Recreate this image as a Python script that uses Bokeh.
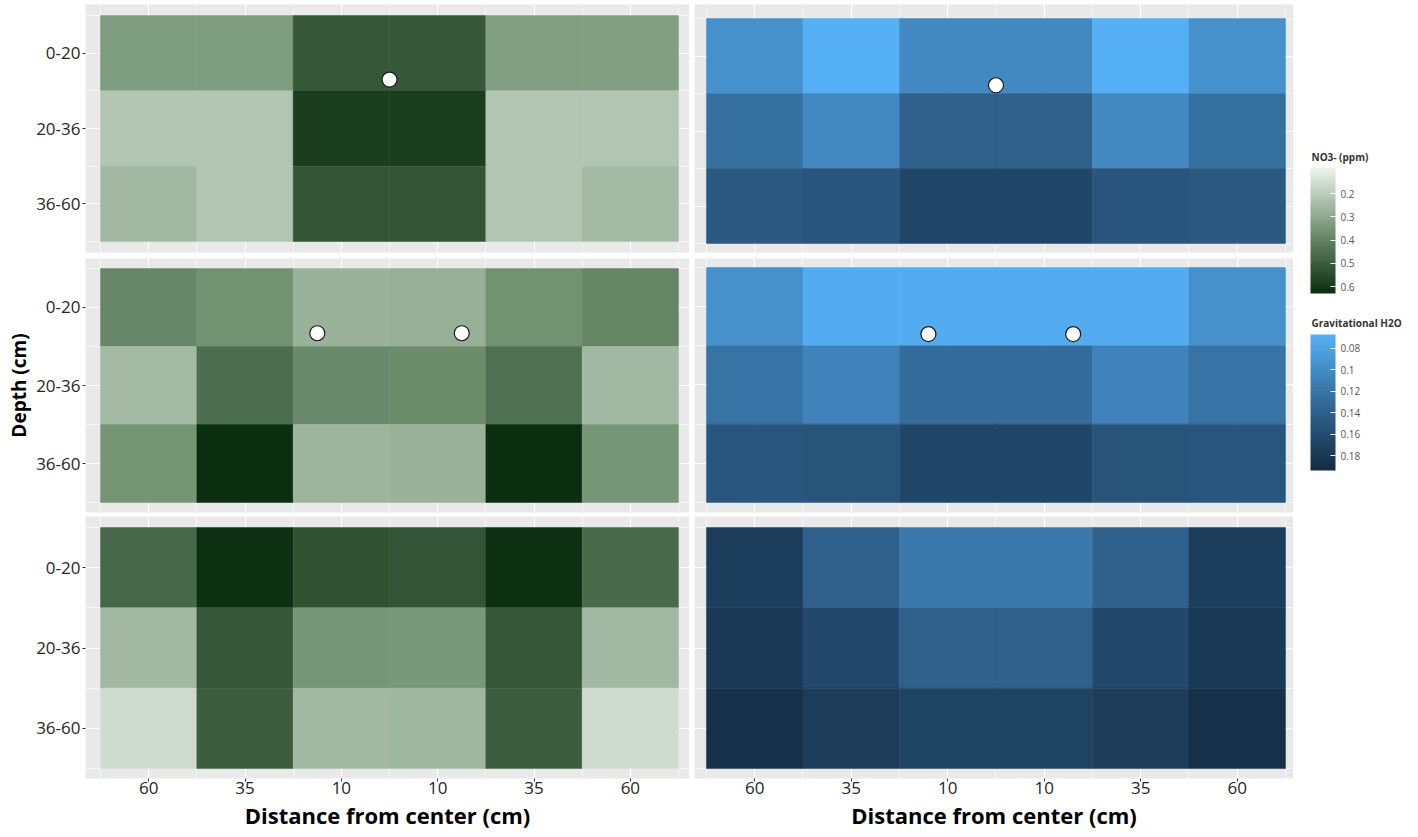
import numpy as np
from bokeh.plotting import figure
from bokeh.models import (ColumnDataSource, LinearColorMapper, ColorBar, FixedTicker,
                          Range1d, PrintfTickFormatter)
from bokeh.layouts import row, column
from bokeh.transform import transform
from bokeh.core.properties import value
from bokeh.embed import file_html
from bokeh.resources import INLINE

# ---------------- data ----------------
distance_labels = ["60", "35", "10", "10", "35", "60"]
depth_labels = ["0-20", "20-36", "36-60"]

# NO3- (ppm); rows: depth 0-20, 20-36, 36-60 ; columns: distance
no3_panel1 = [
    [0.333, 0.333, 0.516, 0.516, 0.325, 0.325],
    [0.221, 0.221, 0.587, 0.587, 0.221, 0.221],
    [0.254, 0.221, 0.524, 0.524, 0.221, 0.249],
]
no3_panel2 = [
    [0.388, 0.361, 0.271, 0.279, 0.361, 0.393],
    [0.249, 0.456, 0.380, 0.374, 0.450, 0.254],
    [0.352, 0.630, 0.265, 0.271, 0.630, 0.347],
]
no3_panel3 = [
    [0.475, 0.625, 0.532, 0.526, 0.625, 0.469],
    [0.254, 0.516, 0.347, 0.341, 0.516, 0.254],
    [0.159, 0.505, 0.254, 0.260, 0.499, 0.159],
]
# Gravitational H2O
h2o_panel1 = [
    [0.096, 0.068, 0.103, 0.103, 0.068, 0.096],
    [0.125, 0.103, 0.139, 0.139, 0.103, 0.125],
    [0.147, 0.151, 0.166, 0.166, 0.151, 0.147],
]
h2o_panel2 = [
    [0.096, 0.072, 0.072, 0.072, 0.072, 0.096],
    [0.123, 0.108, 0.129, 0.129, 0.108, 0.123],
    [0.150, 0.153, 0.166, 0.166, 0.153, 0.150],
]
h2o_panel3 = [
    [0.176, 0.139, 0.117, 0.117, 0.139, 0.176],
    [0.180, 0.164, 0.139, 0.139, 0.164, 0.180],
    [0.189, 0.177, 0.170, 0.170, 0.177, 0.189],
]

# marker positions (tile units: x column index, y depth index from bottom)
markers_left1_x = [2.5]
markers_left1_y = [1.65]
markers_right1_x = [2.5]
markers_right1_y = [1.61]
markers_left2_x = [1.75, 3.25]
markers_left2_y = [1.67, 1.67]
markers_right2_x = [1.8, 3.3]
markers_right2_y = [1.65, 1.65]

no3_ticks = [0.2, 0.3, 0.4, 0.5, 0.6]
h2o_ticks = [0.08, 0.10, 0.12, 0.14, 0.16, 0.18]
no3_limits = (0.088, 0.63)
h2o_limits = (0.067, 0.194)
legend_titles = ["NO3- (ppm)", "Gravitational H2O"]

# ---------------- styling ----------------
FONT = "Open Sans"
PANEL_BG = "#E9E9E9"


def ramp(stops, n=256):
    stops = [np.array(s, dtype=float) for s in stops]
    seg = len(stops) - 1
    out = []
    for t in np.linspace(0, 1, n):
        k = min(int(t * seg), seg - 1)
        u = t * seg - k
        c = stops[k] + (stops[k + 1] - stops[k]) * u
        out.append("#%02x%02x%02x" % tuple(int(round(v)) for v in c))
    return out


green_pal = ramp([(11, 46, 16), (114, 146, 114), (238, 245, 238)])   # dark -> light
blue_pal = ramp([(19, 43, 67), (51, 106, 152), (86, 177, 247)])      # dark -> light

# reversed mappers: high values dark (at the bottom of the colour bar)
green_mapper = LinearColorMapper(palette=green_pal, low=no3_limits[1], high=no3_limits[0])
blue_mapper = LinearColorMapper(palette=blue_pal, low=h2o_limits[1], high=h2o_limits[0])


def grid_source(grid):
    xs, ys, vs = [], [], []
    for i, rowvals in enumerate(grid):
        for j, v in enumerate(rowvals):
            xs.append(j)
            ys.append(len(grid) - 1 - i)
            vs.append(v)
    return ColumnDataSource(dict(x=xs, y=ys, v=vs))


def panel(grid, mapper, xr, yr, fw, fh, mbl, mbt, mbb, show_y, show_x,
          mx=None, my=None, ylabel=None):
    p = figure(frame_width=fw, frame_height=fh,
               x_range=Range1d(*xr), y_range=Range1d(*yr),
               output_backend="svg", toolbar_location=None,
               min_border_left=mbl, min_border_right=0, min_border_top=mbt,
               min_border_bottom=mbb,
               background_fill_color=PANEL_BG, border_fill_color="white",
               outline_line_color=None)
    p.xgrid.ticker = FixedTicker(ticks=list(range(len(distance_labels))),
                                 minor_ticks=[k - 0.5 for k in range(len(distance_labels) + 1)])
    p.ygrid.ticker = FixedTicker(ticks=list(range(len(depth_labels))),
                                 minor_ticks=[k - 0.5 for k in range(len(depth_labels) + 1)])
    for g in (p.xgrid, p.ygrid):
        g.grid_line_color = "white"
        g.grid_line_width = 1.2
        g.minor_grid_line_color = "white"
        g.minor_grid_line_width = 0.6

    src = grid_source(grid)
    tr = transform("v", mapper)
    p.rect(x="x", y="y", width=1, height=1, source=src,
           fill_color=tr, line_color=tr, line_width=0.5)

    if mx is not None:
        p.scatter(mx, my, size=15, fill_color="white", line_color="#1a1a1a", line_width=1.2)

    p.xaxis.ticker = FixedTicker(ticks=list(range(len(distance_labels))))
    p.xaxis.major_label_overrides = {j: lab for j, lab in enumerate(distance_labels)}
    p.yaxis.ticker = FixedTicker(ticks=list(range(len(depth_labels))))
    p.yaxis.major_label_overrides = {len(depth_labels) - 1 - i: lab for i, lab in enumerate(depth_labels)}
    for ax in (p.xaxis[0], p.yaxis[0]):
        ax.axis_line_color = None
        ax.minor_tick_line_color = None
        ax.major_tick_line_color = "#333333"
        ax.major_tick_out = 3
        ax.major_tick_in = 0
        ax.major_label_text_font = FONT
        ax.major_label_text_font_size = "17px"
        ax.major_label_text_color = "#262626"
        ax.axis_label_text_font = FONT
        ax.axis_label_text_font_style = "bold"
        ax.axis_label_text_color = "black"
    p.yaxis.major_label_standoff = 2
    p.xaxis.major_label_standoff = 0
    p.xaxis.visible = show_x
    p.yaxis.visible = show_y
    if show_x:
        p.xaxis.axis_label = "Distance from center (cm)"
        p.xaxis.axis_label_text_font_size = "22px"
        p.xaxis.axis_label_standoff = 3
    if ylabel:
        p.yaxis.axis_label = ylabel
        p.yaxis.axis_label_text_font_size = "19px"
        p.yaxis.axis_label_standoff = 1
    return p


LX = (-0.5 - 0.156, 5.5 + 0.114)
RX = (-0.5 - 0.124, 5.5 + 0.083)

L1 = panel(no3_panel1, green_mapper, LX, (-0.5 - 0.146, 2.5 + 0.146), 604, 248, 85, 4, 6, True, False,
           markers_left1_x, markers_left1_y)
R1 = panel(h2o_panel1, blue_mapper, RX, (-0.5 - 0.12, 2.5 + 0.187), 599, 248, 5, 4, 6, False, False,
           markers_right1_x, markers_right1_y)
L2 = panel(no3_panel2, green_mapper, LX, (-0.5 - 0.128, 2.5 + 0.128), 604, 254, 85, 0, 4, True, False,
           markers_left2_x, markers_left2_y, ylabel="Depth (cm)")
R2 = panel(h2o_panel2, blue_mapper, RX, (-0.5 - 0.128, 2.5 + 0.115), 599, 254, 5, 0, 4, False, False,
           markers_right2_x, markers_right2_y)
L3 = panel(no3_panel3, green_mapper, LX, (-0.5 - 0.124, 2.5 + 0.137), 604, 262, 85, 0, 56, True, True)
R3 = panel(h2o_panel3, blue_mapper, RX, (-0.5 - 0.124, 2.5 + 0.137), 599, 262, 5, 0, 56, False, True)

# ---------------- legend column ----------------
LEG_W, LEG_H = 120, 834
leg = figure(frame_width=LEG_W, frame_height=LEG_H, min_border=0,
             x_range=Range1d(0, LEG_W), y_range=Range1d(LEG_H, 0),
             output_backend="svg", toolbar_location=None, outline_line_color=None)
leg.axis.visible = False
leg.grid.visible = False

leg.text(x=[18, 18], y=[156, 322], text=legend_titles,
         text_font=value(FONT), text_font_size="10px", text_font_style="bold",
         text_color="#333333", text_baseline="middle", text_align="left")

cb_common = dict(width=25, padding=0, margin=0,
                 major_label_text_font=FONT, major_label_text_font_size="10px",
                 major_label_text_color="#555555",
                 major_tick_line_color="white", major_tick_in=5, major_tick_out=0,
                 minor_tick_line_color=None, bar_line_color=None, border_line_color=None,
                 label_standoff=5, formatter=PrintfTickFormatter(format="%g"))

cb_green = ColorBar(color_mapper=green_mapper, ticker=FixedTicker(ticks=no3_ticks),
                    height=126, location=(17, LEG_H - 293), **cb_common)
cb_blue = ColorBar(color_mapper=blue_mapper, ticker=FixedTicker(ticks=h2o_ticks),
                   height=136, location=(17, LEG_H - 470), **cb_common)
leg.add_layout(cb_green)
leg.add_layout(cb_blue)

layout = row(column(row(L1, R1), row(L2, R2), row(L3, R3)), leg)

open("out.html", "w").write(file_html(layout, INLINE))
